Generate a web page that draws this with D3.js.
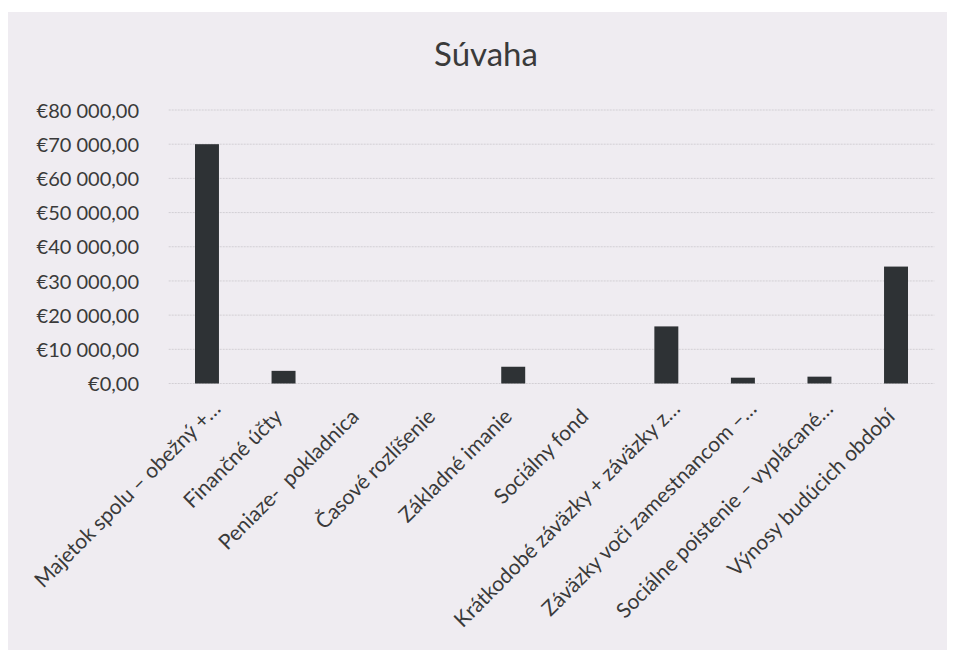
<!DOCTYPE html>
<html><head><meta charset="utf-8">
<script src="https://cdn.jsdelivr.net/npm/d3@7/dist/d3.min.js"></script>
<style>
html,body{margin:0;padding:0;background:#fff;}
svg{display:block;}
</style></head>
<body>
<svg id="chart" width="953" height="650"></svg>
<script>
const categories = [
  "Majetok spolu – obežný +…",
  "Finančné účty",
  "Peniaze-  pokladnica",
  "Časové rozlíšenie",
  "Základné imanie",
  "Sociálny fond",
  "Krátkodobé záväzky + záväzky z…",
  "Záväzky voči zamestnancom –…",
  "Sociálne poistenie – vyplácané…",
  "Výnosy budúcich období"
];
const values = [70000, 3700, 0, 0, 4900, 0, 16700, 1700, 2000, 34200];
const yTicks = [0, 10000, 20000, 30000, 40000, 50000, 60000, 70000, 80000];
const title = "Súvaha";

const svg = d3.select("#chart");
const W = 953, H = 650;
const font = "Lato, 'Open Sans', sans-serif";
const textColor = "#3a3a3a";

// background
svg.append("rect").attr("width", W).attr("height", H).attr("fill", "#ffffff");
svg.append("rect").attr("x", 8).attr("y", 12).attr("width", W - 14).attr("height", H - 12)
  .attr("fill", "#efecf1");

const plot = {left: 168.7, right: 934.3, top: 110, bottom: 383.5};

const x = d3.scaleBand().domain(categories)
  .range([plot.left, plot.right]).paddingInner(0.687).paddingOuter(0.3435);
const y = d3.scaleLinear().domain([0, 80000]).range([plot.bottom, plot.top]);

const fmt = v => "€" + d3.format(",.2f")(v).replace(/,/g, " ").replace(".", ",");

// gridlines
svg.append("g").selectAll("line").data(yTicks).join("line")
  .attr("x1", plot.left).attr("x2", plot.right)
  .attr("y1", d => y(d)).attr("y2", d => y(d))
  .attr("stroke", "#d2cfd4").attr("stroke-width", 1).attr("stroke-dasharray", "2,1");

// y axis labels
const yAxis = d3.axisLeft(y).tickValues(yTicks).tickFormat(fmt).tickSize(0).tickPadding(0);
const gy = svg.append("g").attr("transform", `translate(139,0)`).call(yAxis);
gy.select(".domain").remove();
gy.selectAll("text").attr("font-family", font).attr("font-size", 20)
  .attr("fill", textColor).attr("dy", "0.36em");

// bars
svg.append("g").selectAll("rect").data(values).join("rect")
  .attr("x", (d, i) => x(categories[i]))
  .attr("width", x.bandwidth())
  .attr("y", d => y(d))
  .attr("height", d => y(0) - y(d))
  .attr("fill", "#2e3235");

// category labels
const gl = svg.append("g");
categories.forEach((c, i) => {
  const cx = x(c) + x.bandwidth() / 2;
  const trunc = c.endsWith("…");
  const ax = trunc ? cx + 15 : cx;
  const ay = trunc ? 410 : 418;
  gl.append("text")
    .attr("transform", `translate(${ax},${ay}) rotate(-45)`)
    .attr("text-anchor", "end")
    .style("white-space", "pre")
    .attr("font-family", font).attr("font-size", 21)
    .attr("fill", textColor)
    .text(c);
});

// title
svg.append("text").attr("x", 486).attr("y", 66).attr("text-anchor", "middle")
  .attr("font-family", font).attr("font-size", 33).attr("fill", textColor)
  .text(title);
</script>
</body></html>
